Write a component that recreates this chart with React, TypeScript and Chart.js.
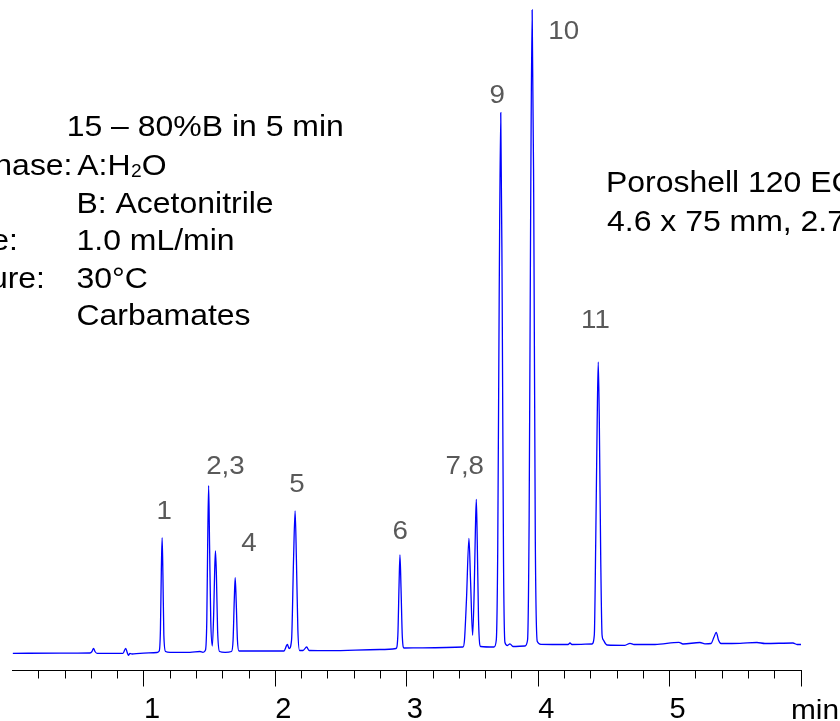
import React, { useEffect, useRef } from 'react';
import { Chart, registerables } from 'chart.js';

Chart.register(...registerables);

// Retention time (min)
const times = [0, 0.36, 0.589, 0.604, 0.616, 0.627, 0.643, 0.840, 0.861, 0.871, 0.881, 0.893, 0.909, 0.970, 1.099,
  1.116, 1.125, 1.132, 1.138, 1.144, 1.151, 1.164, 1.198, 1.350, 1.426, 1.449,
  1.468, 1.478, 1.485, 1.492, 1.499, 1.508, 1.520, 1.530, 1.538, 1.544, 1.551, 1.560, 1.575, 1.617, 1.666,
  1.678, 1.687, 1.694, 1.702, 1.711, 1.723, 1.883, 2.065, 2.091, 2.104,
  2.123, 2.138, 2.150, 2.160, 2.171, 2.184, 2.210, 2.238, 2.256, 2.416, 2.796, 2.918,
  2.932, 2.941, 2.948, 2.956, 2.966, 2.979, 3.116, 3.428,
  3.439, 3.454, 3.473, 3.485, 3.501, 3.513, 3.522, 3.529, 3.536, 3.546, 3.562, 3.664,
  3.681, 3.692, 3.703, 3.715, 3.726, 3.736, 3.747, 3.766, 3.785, 3.808, 3.899,
  3.919, 3.931, 3.943, 3.954, 3.966, 3.978, 3.993, 4.021, 4.227, 4.242, 4.257, 4.409,
  4.427, 4.438, 4.449, 4.457, 4.465, 4.476, 4.486, 4.496, 4.509, 4.524, 4.660, 4.699, 4.729, 4.889,
  5.071, 5.102, 5.231, 5.269, 5.315, 5.338, 5.355, 5.372, 5.391, 5.536, 5.665, 5.726, 5.939, 5.970, 6.0];

// Detector signal (mAU)
const signal = [-0.3, -0.2, 0, 1.5, 4.7, 1.5, -0.3, -0.3, 4.7, 1, -2.3, -0.5, -1, -0.3, 0.5,
  2, 23, 83, 115.3, 78, 18, 1.5, 0.7, 0.7, 1.5, 0.7,
  3, 33, 113, 167.3, 108, 33, 7, 38, 83, 102, 78, 23, 1.5, 0.7, 1.5,
  13, 53, 75.3, 50, 13, 2, 2, 2, 8.5, 4.5,
  13, 93, 142, 93, 23, 2.5, 2.5, 6, 2.5, 2.3, 3.5, 4.5,
  18, 68, 98, 65, 16, 5, 5.2, 6,
  13, 53, 114.7, 73, 17.7, 63, 123, 153.7, 113, 33, 6.5, 6,
  13, 103, 353, 540.3, 353, 93, 10.5, 7.5, 9.2, 6.5, 7,
  13, 133, 453, 643, 453, 113, 11.5, 8.7, 8.5, 10, 8.5, 9,
  18, 113, 233, 291, 233, 93, 18, 13, 10, 8, 7.7, 9.7, 8.5, 8.5,
  10.7, 9, 10.5, 9.2, 9.5, 16, 20.7, 13, 9.5, 9.7, 10.5, 9.5, 10, 8.5, 8.5];

// Peak labels and their anchor (time, signal)
const peakNames = ['1', '2,3', '4', '5', '6', '7,8', '9', '10', '11'];
const peakLabelTimes = [1.154, 1.620, 1.799, 2.164, 2.950, 3.441, 3.688, 4.194, 4.436];
const peakLabelHeights = [134, 179.5, 102, 161.3, 113.7, 178.7, 549.7, 613.7, 325];

const xTickLabels = ['1', '2', '3', '4', '5'];
const xUnit = 'min';

const methodLabels = ['hase:', 'e:', 'ure:'];
const gradientText = '15 \u2013 80%B in 5 min';
const mobileA = ['A:H', '2', 'O'];
const methodValues = ['B: Acetonitrile', '1.0 mL/min', '30\u00B0C', 'Carbamates'];
const columnText = ['Poroshell 120 EC', '4.6 x 75 mm, 2.7'];

const FONT = '"Liberation Sans", Arial, Helvetica, sans-serif';
const SX = 1.065;

const textPlugin = {
  id: 'chromAnnotations',
  afterDraw(chart: any) {
    const { ctx, scales } = chart;
    const xs = scales.x;
    const ys = scales.y;
    const put = (text: string, px: number, py: number, size: number, color: string, align: CanvasTextAlign) => {
      ctx.save();
      ctx.font = `${size}px ${FONT}`;
      ctx.fillStyle = color;
      ctx.textAlign = align;
      ctx.textBaseline = 'alphabetic';
      ctx.translate(px, py);
      ctx.scale(SX, 1);
      ctx.fillText(text, 0, 0);
      ctx.restore();
    };
    const width = (text: string, size: number) => {
      ctx.save();
      ctx.font = `${size}px ${FONT}`;
      const w = ctx.measureText(text).width * SX;
      ctx.restore();
      return w;
    };

    // peak labels
    peakNames.forEach((name, i) => {
      put(name, xs.getPixelForValue(peakLabelTimes[i]), ys.getPixelForValue(peakLabelHeights[i]), 26, '#595959', 'center');
    });

    // method block
    const col = 76.5;
    put(gradientText, 66.7, 136, 30, '#000', 'left');
    put(methodLabels[0], 72.5, 175, 30, '#000', 'right');
    let ax = col + 0.8;
    put(mobileA[0], ax, 175, 30, '#000', 'left');
    ax += width(mobileA[0], 30);
    put(mobileA[1], ax + 0.5, 177, 18, '#000', 'left');
    ax += width(mobileA[1], 18) + 0.5;
    put(mobileA[2], ax, 175, 30, '#000', 'left');
    put(methodValues[0], col, 212.5, 30, '#000', 'left');
    put(methodLabels[1], 18, 250, 30, '#000', 'right');
    put(methodValues[1], col, 250, 30, '#000', 'left');
    put(methodLabels[2], 45, 287.5, 30, '#000', 'right');
    put(methodValues[2], col, 287.5, 30, '#000', 'left');
    put(methodValues[3], col, 324.5, 30, '#000', 'left');

    // column block
    put(columnText[0], 606, 192, 30, '#000', 'left');
    put(columnText[1], 607, 231, 30, '#000', 'left');

    // axis unit
    put(xUnit, 791, 718.5, 28, '#000', 'left');
  },
};

export default function App() {
  const canvasRef = useRef<HTMLCanvasElement | null>(null);

  useEffect(() => {
    document.body.style.margin = '0';
    const canvas = canvasRef.current;
    if (!canvas) return;
    const points = times.map((t, i) => ({ x: t, y: signal[i] }));
    const chart = new Chart(canvas, {
      type: 'line',
      data: {
        datasets: [
          {
            data: points,
            borderColor: '#0000ff',
            borderWidth: 1.3,
            pointRadius: 0,
            fill: false,
            cubicInterpolationMode: 'monotone',
          },
        ],
      },
      options: {
        animation: false,
        responsive: true,
        maintainAspectRatio: false,
        layout: { padding: { left: 12.6, right: 39, top: 0, bottom: 0 } },
        plugins: {
          legend: { display: false },
          tooltip: { enabled: false },
          title: { display: false },
        },
        scales: {
          x: {
            type: 'linear',
            position: 'bottom',
            weight: 1,
            min: 0,
            max: 6,
            afterFit: (s: any) => {
              s.height = 50.5;
            },
            border: { display: true, color: '#000', width: 1 },
            grid: {
              drawOnChartArea: false,
              drawTicks: true,
              tickLength: 16,
              tickWidth: 1,
              tickColor: (c: any) => (c.tick && c.tick.value === 0 ? 'rgba(0,0,0,0)' : '#000'),
            },
            ticks: {
              stepSize: 1,
              autoSkip: false,
              maxRotation: 0,
              labelOffset: 8,
              padding: 6,
              color: '#000',
              font: { family: FONT, size: 29 },
              callback: (v: any) => (xTickLabels.includes(String(v)) ? String(v) : ''),
            },
          },
          x2: {
            type: 'linear',
            axis: 'x',
            position: 'bottom',
            weight: 0,
            min: 0,
            max: 6,
            afterFit: (s: any) => {
              s.height = 0;
            },
            border: { display: false },
            grid: {
              drawOnChartArea: false,
              drawTicks: true,
              tickLength: 8,
              tickWidth: 1,
              tickColor: (c: any) => (c.tick && c.tick.value === 0 ? 'rgba(0,0,0,0)' : '#000'),
            },
            ticks: { stepSize: 0.2, autoSkip: false, maxRotation: 0, display: false },
          },
          y: {
            type: 'linear',
            display: false,
            min: -17.5,
            max: 653,
          },
        },
      },
      plugins: [textPlugin],
    } as any);
    return () => chart.destroy();
  }, []);

  return (
    <div style={{ position: 'relative', width: '840px', height: '721px', overflow: 'hidden' }}>
      <canvas ref={canvasRef} />
    </div>
  );
}
